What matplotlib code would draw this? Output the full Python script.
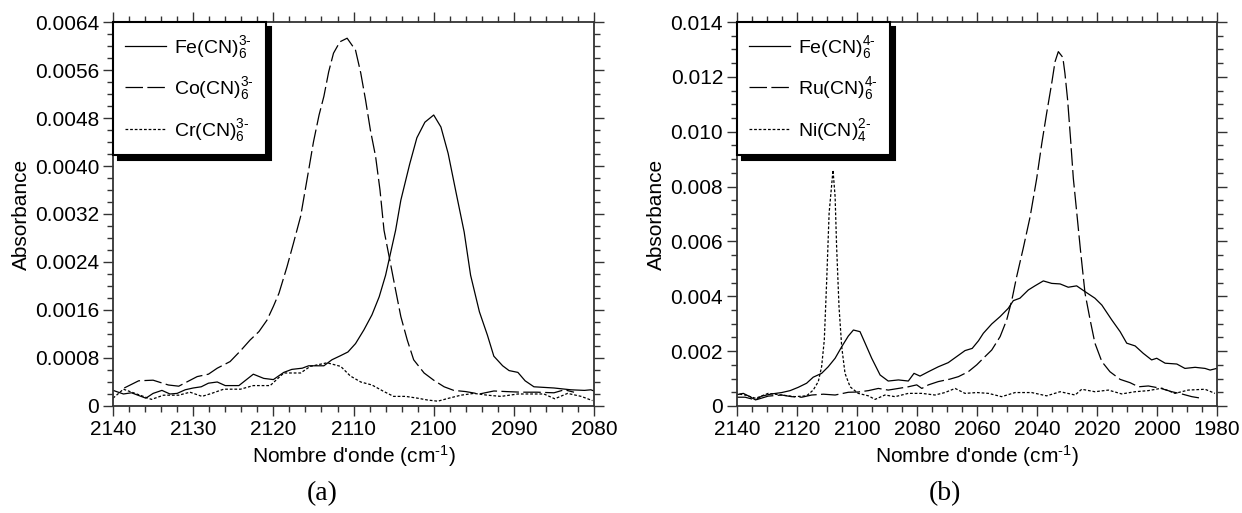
#!/usr/bin/env python3
import matplotlib
matplotlib.use('Agg')
import matplotlib.pyplot as plt
from matplotlib.ticker import MultipleLocator, FuncFormatter

# --- panel (a): hexacyanometallates(III) ---
fe3_wn = [2140.2, 2138.7, 2137.7, 2135.9, 2135.0, 2133.9, 2132.9, 2132.0, 2131.0, 2130.0,
          2129.0, 2128.1, 2127.0, 2126.0, 2124.3, 2122.5, 2121.2, 2120.0, 2118.7, 2117.7,
          2116.4, 2115.6, 2113.7, 2112.7, 2111.6, 2110.7, 2109.75, 2108.7, 2107.7, 2106.8,
          2106.0, 2105.4, 2104.75, 2104.1, 2103.0, 2102.1, 2101.1, 2100.0, 2099.1, 2098.2,
          2097.2, 2096.2, 2095.4, 2094.3, 2093.3, 2092.5, 2091.4, 2090.6, 2089.5, 2088.6,
          2087.5, 2085.0, 2082.9, 2081.2, 2080.4, 2079.8]
fe3_abs = [0.00027, 0.00020, 0.00022, 0.00013, 0.00021, 0.00026, 0.00020, 0.00021, 0.00027, 0.00030,
           0.00032, 0.00038, 0.00040, 0.00034, 0.00034, 0.00053, 0.00046, 0.00044, 0.00056, 0.00061,
           0.00063, 0.00067, 0.00067, 0.00077, 0.00084, 0.00090, 0.00104, 0.00127, 0.00152, 0.00182,
           0.00218, 0.00254, 0.00293, 0.00343, 0.00403, 0.00447, 0.00473, 0.00485, 0.00465, 0.00421,
           0.00355, 0.00290, 0.00218, 0.00157, 0.00118, 0.00083, 0.00067, 0.00059, 0.00056, 0.00042,
           0.00032, 0.00030, 0.00027, 0.00026, 0.00027, 0.00024]

co3_wn = [2138.6, 2136.8, 2135.0, 2133.1, 2131.8, 2130.8, 2129.5, 2128.1, 2127.0, 2125.4,
          2124.1, 2122.9, 2121.8, 2120.8, 2120.0, 2119.3, 2118.3, 2117.5, 2116.6, 2115.6,
          2115.0, 2114.3, 2113.7, 2113.1, 2112.5, 2111.7, 2110.8, 2109.75, 2109.1, 2108.5,
          2107.9, 2107.25, 2106.7, 2106.2, 2105.4, 2104.75, 2104.1, 2103.3, 2102.5, 2101.2,
          2100.0, 2098.7, 2097.5, 2096.0, 2094.3, 2092.5, 2090.9, 2089.1, 2087.1, 2085.0,
          2083.7, 2082.5]
co3_abs = [0.00030, 0.00042, 0.00043, 0.00035, 0.00033, 0.00040, 0.00049, 0.00053, 0.00063, 0.00074,
           0.00092, 0.00110, 0.00124, 0.00143, 0.00166, 0.00188, 0.00232, 0.00271, 0.00316, 0.00393,
           0.00440, 0.00485, 0.00516, 0.00557, 0.00588, 0.00607, 0.00613, 0.00593, 0.00555, 0.00510,
           0.00460, 0.00416, 0.00360, 0.00293, 0.00238, 0.00193, 0.00149, 0.00110, 0.00077, 0.00055,
           0.00043, 0.00032, 0.00026, 0.00024, 0.00020, 0.00025, 0.00024, 0.00023, 0.00023, 0.00022,
           0.00027, 0.00023]

cr3_wn = [2140.0, 2138.7, 2137.25, 2135.2, 2133.7, 2131.8, 2130.4, 2128.9, 2127.7, 2126.2,
          2124.1, 2122.5, 2120.4, 2118.7, 2116.6, 2115.4, 2113.3, 2111.6, 2110.4, 2109.1,
          2107.7, 2106.2, 2105.0, 2103.5, 2102.0, 2100.8, 2099.5, 2098.1, 2096.6, 2095.0,
          2093.3, 2091.6, 2089.5, 2087.7, 2086.25, 2084.9, 2083.3, 2081.6, 2080.2]
cr3_abs = [0.00013, 0.00028, 0.00021, 0.00011, 0.00018, 0.00018, 0.00023, 0.00016, 0.00021, 0.00028,
           0.00028, 0.00034, 0.00034, 0.00055, 0.00055, 0.00066, 0.00072, 0.00066, 0.00050, 0.00040,
           0.00035, 0.00024, 0.00016, 0.00016, 0.00013, 0.00010, 0.00008, 0.00013, 0.00018, 0.00021,
           0.00018, 0.00016, 0.00020, 0.00020, 0.00020, 0.00012, 0.00021, 0.00016, 0.00009]

# --- panel (b): Fe(II), Ru(II), Ni(II) ---
fe2_wn = [2140.7, 2137.9, 2135.7, 2133.8, 2131.8, 2128.4, 2125.1, 2122.3, 2119.6, 2116.8,
          2114.6, 2111.8, 2109.6, 2107.3, 2105.1, 2102.9, 2101.2, 2099.0, 2097.3, 2095.1,
          2092.3, 2089.6, 2086.2, 2082.9, 2081.0, 2079.0, 2076.2, 2072.9, 2069.6, 2066.8,
          2064.0, 2061.6, 2059.5, 2057.9, 2055.1, 2052.3, 2049.6, 2047.9, 2045.7, 2042.9,
          2040.7, 2037.9, 2035.1, 2032.3, 2029.6, 2026.8, 2024.0, 2020.7, 2018.4, 2015.1,
          2012.3, 2010.1, 2007.3, 2004.6, 2001.8, 2000.1, 1997.3, 1993.4, 1990.7, 1987.3,
          1984.0, 1982.3, 1980.1]
fe2_abs = [0.00040, 0.00046, 0.00034, 0.00022, 0.00036, 0.00044, 0.00049, 0.00056, 0.00068, 0.00083,
           0.00105, 0.00119, 0.00143, 0.00174, 0.00216, 0.00255, 0.00277, 0.00271, 0.00229, 0.00174,
           0.00113, 0.00091, 0.00095, 0.00091, 0.00119, 0.00109, 0.00125, 0.00143, 0.00158, 0.00180,
           0.00202, 0.00210, 0.00238, 0.00265, 0.00299, 0.00326, 0.00356, 0.00384, 0.00393, 0.00423,
           0.00438, 0.00456, 0.00447, 0.00445, 0.00433, 0.00438, 0.00417, 0.00393, 0.00368, 0.00314,
           0.00271, 0.00229, 0.00219, 0.00192, 0.00168, 0.00174, 0.00156, 0.00153, 0.00137, 0.00141,
           0.00137, 0.00131, 0.00137]

ru2_wn = [2140.7, 2137.3, 2133.8, 2129.6, 2125.1, 2121.8, 2118.4, 2115.1, 2111.2, 2107.3,
          2102.9, 2099.6, 2096.2, 2092.9, 2089.6, 2086.2, 2082.9, 2080.1, 2078.4, 2076.2,
          2072.9, 2069.0, 2066.2, 2062.9, 2060.1, 2057.9, 2055.1, 2052.3, 2050.1, 2048.4,
          2046.8, 2044.6, 2042.3, 2040.1, 2038.4, 2036.8, 2035.1, 2034.0, 2032.9, 2031.4,
          2030.7, 2029.8, 2028.8, 2027.9, 2026.8, 2025.5, 2024.0, 2022.3, 2020.7, 2018.4,
          2015.7, 2012.3, 2009.0, 2006.2, 2002.9, 1999.0, 1995.1, 1991.8, 1988.4, 1985.1]
ru2_abs = [0.00032, 0.00032, 0.00022, 0.00036, 0.00040, 0.00034, 0.00032, 0.00040, 0.00043, 0.00040,
           0.00050, 0.00051, 0.00056, 0.00064, 0.00058, 0.00064, 0.00070, 0.00077, 0.00064, 0.00077,
           0.00089, 0.00098, 0.00107, 0.00125, 0.00150, 0.00174, 0.00204, 0.00253, 0.00314, 0.00386,
           0.00471, 0.00575, 0.00690, 0.00830, 0.00958, 0.01067, 0.01177, 0.01255, 0.01292, 0.01271,
           0.01213, 0.01116, 0.00970, 0.00830, 0.00710, 0.00566, 0.00411, 0.00314, 0.00229, 0.00162,
           0.00125, 0.00097, 0.00085, 0.00070, 0.00073, 0.00065, 0.00052, 0.00044, 0.00034, 0.00028]

ni2_wn = [2140.7, 2137.3, 2133.8, 2129.6, 2125.1, 2120.7, 2116.8, 2114.6, 2112.9, 2111.8,
          2110.9, 2110.1, 2109.3, 2108.0, 2107.3, 2106.8, 2106.0, 2105.1, 2104.0, 2102.3,
          2099.6, 2096.2, 2094.0, 2090.7, 2087.3, 2082.9, 2078.4, 2074.0, 2070.7, 2067.3,
          2064.0, 2060.0, 2056.2, 2051.8, 2047.3, 2041.8, 2036.8, 2032.3, 2027.3, 2025.1,
          2020.7, 2016.2, 2011.8, 2007.3, 2002.9, 1998.4, 1994.0, 1989.6, 1984.0, 1980.7]
ni2_abs = [0.00046, 0.00040, 0.00028, 0.00046, 0.00040, 0.00034, 0.00037, 0.00058, 0.00089, 0.00143,
           0.00241, 0.00459, 0.00703, 0.00860, 0.00763, 0.00581, 0.00362, 0.00216, 0.00119, 0.00070,
           0.00046, 0.00037, 0.00024, 0.00040, 0.00034, 0.00046, 0.00046, 0.00040, 0.00049, 0.00064,
           0.00046, 0.00049, 0.00046, 0.00034, 0.00049, 0.00049, 0.00037, 0.00052, 0.00040, 0.00061,
           0.00052, 0.00058, 0.00044, 0.00052, 0.00056, 0.00065, 0.00046, 0.00058, 0.00061, 0.00046]

plt.rcParams.update({
    'font.family': ['Liberation Sans', 'DejaVu Sans'],
    'mathtext.default': 'regular',
    'font.size': 14,
})

SOLID = '-'
LONGDASH = (0, (14, 3.5))
DOTS = (0, (2.2, 1.5))
HY = '\u2010'  # plain hyphen, mathtext would turn '-' into a wide minus


def style_axes(ax, xlim, xmajor, xminor, ylim, ymajor, yminor, fmt):
    ax.set_xlim(*xlim)
    ax.set_ylim(*ylim)
    ax.xaxis.set_major_locator(MultipleLocator(xmajor))
    ax.xaxis.set_minor_locator(MultipleLocator(xminor))
    ax.yaxis.set_major_locator(MultipleLocator(ymajor))
    ax.yaxis.set_minor_locator(MultipleLocator(yminor))
    ax.yaxis.set_major_formatter(FuncFormatter(lambda v, p: '0' if abs(v) < 1e-12 else fmt % v))
    ax.xaxis.set_major_formatter(FuncFormatter(lambda v, p: '%d' % round(v)))
    ax.tick_params(which='both', direction='out', top=True, right=True,
                   labelsize=15, width=1.0, color='#333333')
    ax.tick_params(which='major', length=7, pad=3)
    ax.tick_params(which='minor', length=4)
    for sp in ax.spines.values():
        sp.set_linewidth(1.3)
        sp.set_color('#333333')
    ax.set_xlabel("Nombre d'onde (cm$^{" + HY + "1}$)", fontsize=15, labelpad=3)
    ax.set_ylabel("Absorbance", fontsize=15, labelpad=3)


def add_legend(ax):
    leg = ax.legend(loc='upper left', bbox_to_anchor=(0, 1), borderaxespad=0,
                    fontsize=14, handlelength=2.1, handletextpad=0.45,
                    labelspacing=0.75, borderpad=0.6, fancybox=False,
                    edgecolor='black', framealpha=1,
                    shadow={'color': 'black', 'alpha': 1, 'ox': 3.5, 'oy': -3.5})
    leg.get_frame().set_linewidth(1.5)
    return leg


fig = plt.figure(figsize=(12.42, 5.13), dpi=100)
ax1 = fig.add_axes([0.091, 0.2086, 0.3873, 0.7485])
ax2 = fig.add_axes([0.5934, 0.2086, 0.3865, 0.7485])

lw = 0.9
ax1.plot(fe3_wn, fe3_abs, color='k', lw=lw, linestyle=SOLID, label='Fe(CN)$_6^{3' + HY + '}$')
ax1.plot(co3_wn, co3_abs, color='k', lw=lw, linestyle=LONGDASH, label='Co(CN)$_6^{3' + HY + '}$')
ax1.plot(cr3_wn, cr3_abs, color='k', lw=lw, linestyle=DOTS, label='Cr(CN)$_6^{3' + HY + '}$')
style_axes(ax1, (2140, 2080), 10, 2, (0, 0.0064), 0.0008, 0.0002, '%.4f')
add_legend(ax1)

ax2.plot(fe2_wn, fe2_abs, color='k', lw=lw, linestyle=SOLID, label='Fe(CN)$_6^{4' + HY + '}$')
ax2.plot(ru2_wn, ru2_abs, color='k', lw=lw, linestyle=LONGDASH, label='Ru(CN)$_6^{4' + HY + '}$')
ax2.plot(ni2_wn, ni2_abs, color='k', lw=lw, linestyle=DOTS, label='Ni(CN)$_4^{2' + HY + '}$')
style_axes(ax2, (2140, 1980), 20, 5, (0, 0.014), 0.002, 0.0005, '%.3f')
add_legend(ax2)

fig.text(322 / 1242, 1 - 494 / 513, '(a)', ha='center', va='center',
         fontsize=20, family=['Liberation Serif', 'DejaVu Serif'])
fig.text(945 / 1242, 1 - 494 / 513, '(b)', ha='center', va='center',
         fontsize=20, family=['Liberation Serif', 'DejaVu Serif'])

fig.savefig('out.png', dpi=100)
